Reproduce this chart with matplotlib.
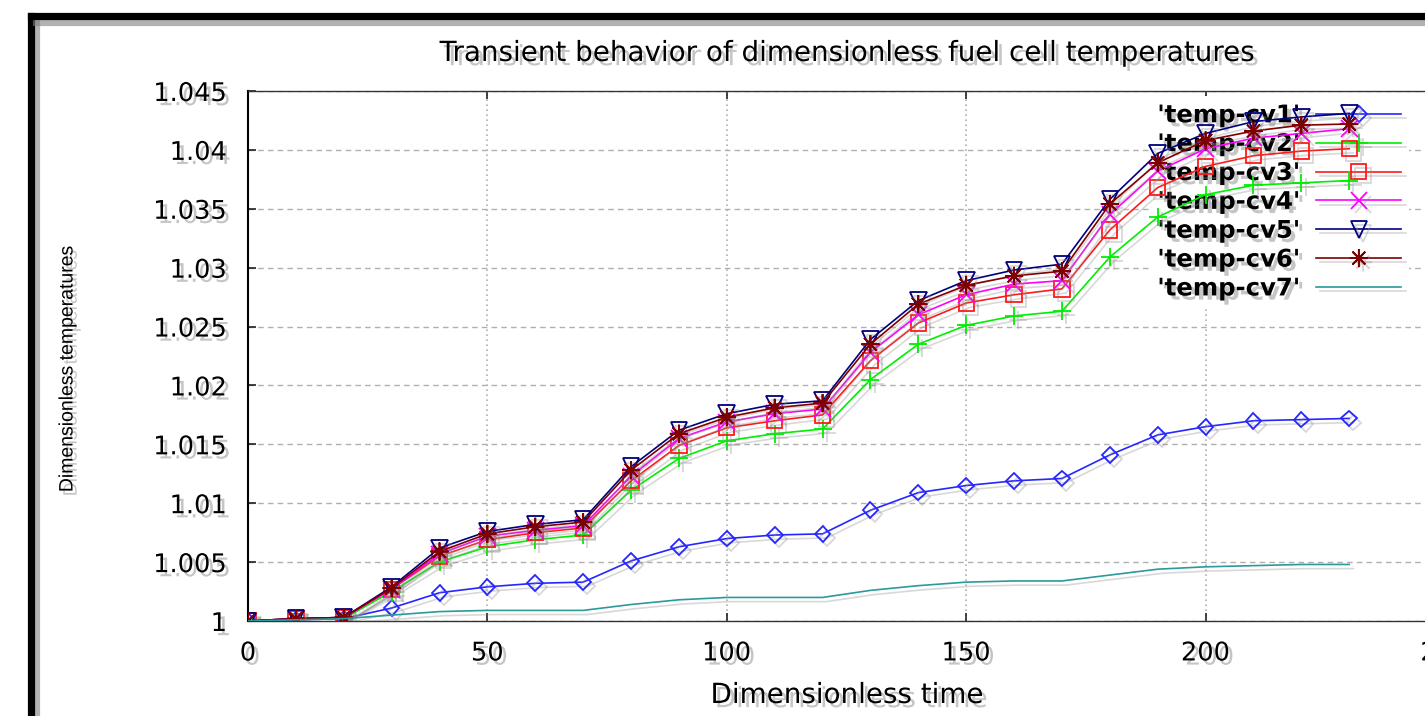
import matplotlib
matplotlib.use("Agg")
import matplotlib.pyplot as plt
import matplotlib.patheffects as pe
from matplotlib.lines import Line2D

# ---------------- data ----------------
time = [0, 10, 20, 30, 40, 50, 60, 70, 80, 90, 100, 110, 120,
        130, 140, 150, 160, 170, 180, 190, 200, 210, 220, 230]

temp_cv1 = [1.0, 1.0001, 1.0002, 1.0011, 1.0024, 1.0029, 1.0032, 1.0033,
            1.0051, 1.0063, 1.0070, 1.0073, 1.0074, 1.0094, 1.0109, 1.0115,
            1.0119, 1.0121, 1.0141, 1.0158, 1.0165, 1.0170, 1.0171, 1.0172]
temp_cv2 = [1.0, 1.0002, 1.0002, 1.0025, 1.0050, 1.0063, 1.0069, 1.0073,
            1.0111, 1.0138, 1.0153, 1.0159, 1.0163, 1.0205, 1.0235, 1.0251,
            1.0259, 1.0263, 1.0309, 1.0343, 1.0362, 1.0370, 1.0372, 1.0374]
temp_cv3 = [1.0, 1.0002, 1.0003, 1.0027, 1.0055, 1.0069, 1.0075, 1.0079,
            1.0119, 1.0149, 1.0164, 1.0170, 1.0175, 1.0221, 1.0253, 1.0270,
            1.0277, 1.0282, 1.0332, 1.0368, 1.0386, 1.0395, 1.0399, 1.0401]
temp_cv4 = [1.0, 1.0002, 1.0003, 1.0027, 1.0057, 1.0072, 1.0077, 1.0081,
            1.0123, 1.0155, 1.0169, 1.0176, 1.0180, 1.0228, 1.0260, 1.0277,
            1.0286, 1.0289, 1.0345, 1.0382, 1.0401, 1.0410, 1.0414, 1.0418]
temp_cv5 = [1.0, 1.0002, 1.0003, 1.0029, 1.0062, 1.0076, 1.0082, 1.0086,
            1.0131, 1.0162, 1.0176, 1.0184, 1.0187, 1.0239, 1.0272, 1.0289,
            1.0298, 1.0303, 1.0358, 1.0397, 1.0414, 1.0424, 1.0428, 1.0431]
temp_cv6 = [1.0, 1.0002, 1.0003, 1.0028, 1.0059, 1.0074, 1.0080, 1.0084,
            1.0128, 1.0159, 1.0173, 1.0181, 1.0185, 1.0235, 1.0269, 1.0285,
            1.0293, 1.0297, 1.0354, 1.0389, 1.0408, 1.0416, 1.0421, 1.0422]
temp_cv7 = [1.0, 1.0001, 1.0002, 1.0005, 1.0008, 1.0009, 1.0009, 1.0009,
            1.0014, 1.0018, 1.0020, 1.0020, 1.0020, 1.0026, 1.0030, 1.0033,
            1.0034, 1.0034, 1.0039, 1.0044, 1.0046, 1.0047, 1.0048, 1.0048]

labels = ["'temp-cv1'", "'temp-cv2'", "'temp-cv3'", "'temp-cv4'",
          "'temp-cv5'", "'temp-cv6'", "'temp-cv7'"]

xticks = [0, 50, 100, 150, 200, 250]
yticks = [1.0, 1.005, 1.01, 1.015, 1.02, 1.025, 1.03, 1.035, 1.04, 1.045]
ytick_labels = ["1", "1.005", "1.01", "1.015", "1.02", "1.025", "1.03",
                "1.035", "1.04", "1.045"]

title = "Transient behavior of dimensionless fuel cell temperatures"
xlabel = "Dimensionless time"
ylabel = "Dimensionless temperatures"

# ---------------- styling ----------------
series = [temp_cv1, temp_cv2, temp_cv3, temp_cv4, temp_cv5, temp_cv6, temp_cv7]
colors = ["#2626ff", "#00ee00", "#ff1a1a", "#ff00ff", "#00007f", "#7f0000", "#2a9a9a"]
markers = ["D", "+", "s", "x", "v", (8, 2, 0), None]
msizes = [8, 13, 11, 12, 12, 13, 0]

W, H = 1425, 716
fig = plt.figure(figsize=(W / 100, H / 100), dpi=100)
fig.patch.set_facecolor("white")

text_shadow = [pe.withSimplePatchShadow(offset=(3, -3), shadow_rgbFace="#808080", alpha=0.45)]
line_shadow = [pe.SimpleLineShadow(offset=(3, -3), shadow_color="#909090", alpha=0.35), pe.Normal()]
frame_shadow = [pe.SimpleLineShadow(offset=(4, -4), shadow_color="#808080", alpha=0.6), pe.Normal()]

# outer black frame: left and top borders (right/bottom lie outside the picture)
fx, fy = 30.5 / W, 1 - 16 / H
fig.add_artist(Line2D([fx, fx], [-0.05, fy], transform=fig.transFigure, color="black",
                      linewidth=5.2, solid_capstyle="projecting", path_effects=frame_shadow))
fig.add_artist(Line2D([fx, 1.05], [fy, fy], transform=fig.transFigure, color="black",
                      linewidth=5.2, solid_capstyle="projecting", path_effects=frame_shadow))

x0, x1 = 248, 1445
ytop, ybot = 91, 621
ax = fig.add_axes([x0 / W, (H - ybot) / H, (x1 - x0) / W, (ybot - ytop) / H])

for y, lab, c, m, ms in zip(series, labels, colors, markers, msizes):
    kw = dict(color=c, linewidth=1.2, label=lab, path_effects=line_shadow, zorder=3)
    if m is not None:
        kw.update(marker=m, markersize=ms, markerfacecolor="none",
                  markeredgecolor=c, markeredgewidth=1.3)
    ax.plot(time, y, **kw)

ax.set_xlim(0, 250)
ax.set_ylim(1.0, 1.045)
ax.set_xticks(xticks)
ax.set_yticks(yticks)
ax.set_yticklabels(ytick_labels)

ax.grid(True, axis="y", color="#b0b0b0", linestyle=(0, (4, 3)), linewidth=1.0)
ax.grid(True, axis="x", color="#b0b0b0", linestyle=(0, (1, 2)), linewidth=1.2)
ax.set_axisbelow(True)

for s in ax.spines.values():
    s.set_linewidth(1.0)
    s.set_color("#333333")
ax.spines["left"].set_linewidth(1.5)
ax.spines["left"].set_color("black")

ax.tick_params(direction="in", top=True, right=True, length=6, width=1.2,
               colors="#222222", labelsize=18.5, pad=14)
ax.tick_params(axis="y", pad=15)
for t in ax.get_xticklabels() + ax.get_yticklabels():
    t.set_family("DejaVu Sans")
    t.set_color("black")
    t.set_path_effects(text_shadow)

fig.text(847 / W, 1 - 53 / H, title, ha="center", va="center", fontsize=20,
         family="DejaVu Sans", path_effects=text_shadow)
fig.text(847 / W, 1 - 695 / H, xlabel, ha="center", va="center", fontsize=20,
         family="DejaVu Sans", path_effects=text_shadow)
fig.text(68 / W, 1 - 368 / H, ylabel, ha="center", va="center", rotation=90,
         fontsize=14, family="Liberation Sans", path_effects=text_shadow)

leg = ax.legend(loc="upper left", bbox_to_anchor=(1150 / W, 1 - 96 / H),
                bbox_transform=fig.transFigure, markerfirst=False, numpoints=1,
                frameon=True, fancybox=False, framealpha=1.0, edgecolor="none",
                facecolor="white", borderpad=0.3, borderaxespad=0,
                handlelength=3.5, handletextpad=0.7, labelspacing=0.2,
                prop={"family": "DejaVu Sans", "weight": "bold", "size": 17.5})
leg.set_zorder(1.5)
for t in leg.get_texts():
    t.set_path_effects(text_shadow)

fig.savefig("out.png", dpi=100)
